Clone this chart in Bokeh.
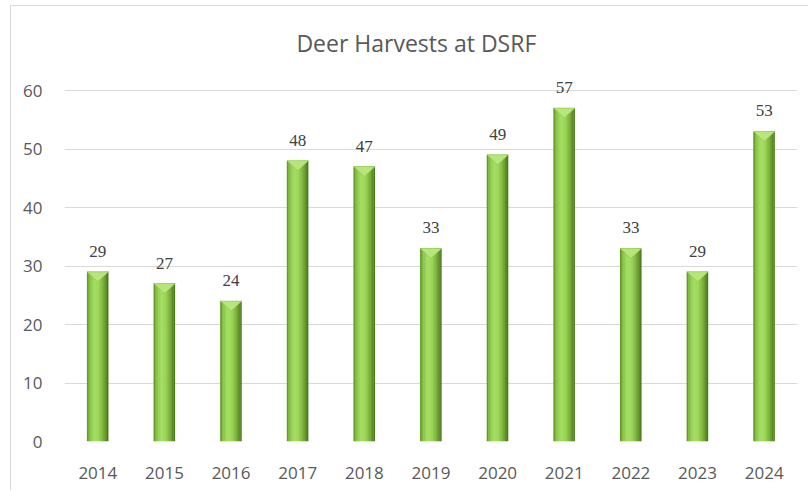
from bokeh.plotting import figure
from bokeh.models import Range1d, FixedTicker, Label, LabelSet, ColumnDataSource
from bokeh.embed import file_html
from bokeh.resources import INLINE

# ---- data ----
years = ["2014", "2015", "2016", "2017", "2018", "2019", "2020", "2021", "2022", "2023", "2024"]
harvests = [29, 27, 24, 48, 47, 33, 49, 57, 33, 29, 53]
y_ticks = [0, 10, 20, 30, 40, 50, 60]
title_text = "Deer Harvests at DSRF"

FONT = "Open Sans"
idx = list(range(len(years)))

# layout (screen px): content origin at (11, 6); axis 0 at y=441, axis 60 at y=90
top_px, zero_px, sixty_px = 6, 441, 90
y_max = 60 * (zero_px - top_px) / (zero_px - sixty_px)

p = figure(width=798, height=485, output_backend="svg", toolbar_location=None,
           x_range=Range1d(-0.5, len(years) - 0.5), y_range=Range1d(0, y_max),
           min_border_left=53, min_border_right=12, min_border_top=0, min_border_bottom=50)
p.styles = {"margin-left": "10px", "margin-top": "5px",
            "border-left": "1px solid #d9d9d9", "border-top": "1px solid #d9d9d9"}
p.background_fill_color = "white"
p.border_fill_color = "white"
p.outline_line_color = None

# axes
p.xaxis.ticker = FixedTicker(ticks=idx)
p.xaxis.major_label_overrides = {i: y for i, y in zip(idx, years)}
p.yaxis.ticker = FixedTicker(ticks=y_ticks)
for ax in (p.xaxis, p.yaxis):
    ax.axis_line_color = None
    ax.major_tick_line_color = None
    ax.minor_tick_line_color = None
    ax.major_label_text_font = FONT
    ax.major_label_text_font_size = "17px"
    ax.major_label_text_color = "#595959"
p.xaxis.major_label_standoff = 19
p.yaxis.major_label_standoff = 16
p.xgrid.visible = False
p.ygrid.grid_line_color = "#d9d9d9"
p.ygrid.grid_line_width = 1

# bars with horizontal gradient made of thin strips
bar_w = 0.32
stops = [(0.0, (0x5a, 0x8c, 0x20)), (0.12, (0x84, 0xc0, 0x44)), (0.35, (0xa6, 0xde, 0x64)),
         (0.55, (0x9c, 0xd6, 0x58)), (0.8, (0x74, 0xaa, 0x34)), (1.0, (0x44, 0x6d, 0x15))]

def color_at(t):
    for (t0, c0), (t1, c1) in zip(stops[:-1], stops[1:]):
        if t0 <= t <= t1:
            f = (t - t0) / (t1 - t0)
            return "#%02x%02x%02x" % tuple(int(round(a + (b - a) * f)) for a, b in zip(c0, c1))
    return "#%02x%02x%02x" % stops[-1][1]

n = 14
sw = bar_w / n
for k in range(n):
    off = -bar_w / 2 + sw * (k + 0.5)
    src = ColumnDataSource(dict(x=[i + off for i in idx], top=harvests))
    p.vbar(x="x", top="top", bottom=0, width=sw * 1.35 if k < n - 1 else sw, source=src,
           fill_color=color_at((k + 0.5) / n), line_color=None)

# top bevel (light triangle) per bar
cap_h = 1.7
xs = [[i - bar_w / 2, i + bar_w / 2, i] for i in idx]
ys = [[v, v, v - cap_h] for v in harvests]
p.patches(xs, ys, fill_color="#b8e67c", line_color="#8fc44f", line_width=0.6)

# data labels
lab_src = ColumnDataSource(dict(x=idx, y=harvests, t=[str(v) for v in harvests]))
p.add_layout(LabelSet(x="x", y="y", text="t", source=lab_src, y_offset=15,
                      text_align="center", text_baseline="alphabetic",
                      text_font=FONT, text_font_size="17px", text_color="#404040"))

# title
p.add_layout(Label(x=4.78, y=68.1, text=title_text, text_align="center", text_baseline="middle",
                   text_font=FONT, text_font_size="23px", text_color="#595959"))

open("out.html", "w").write(file_html(p, INLINE))
